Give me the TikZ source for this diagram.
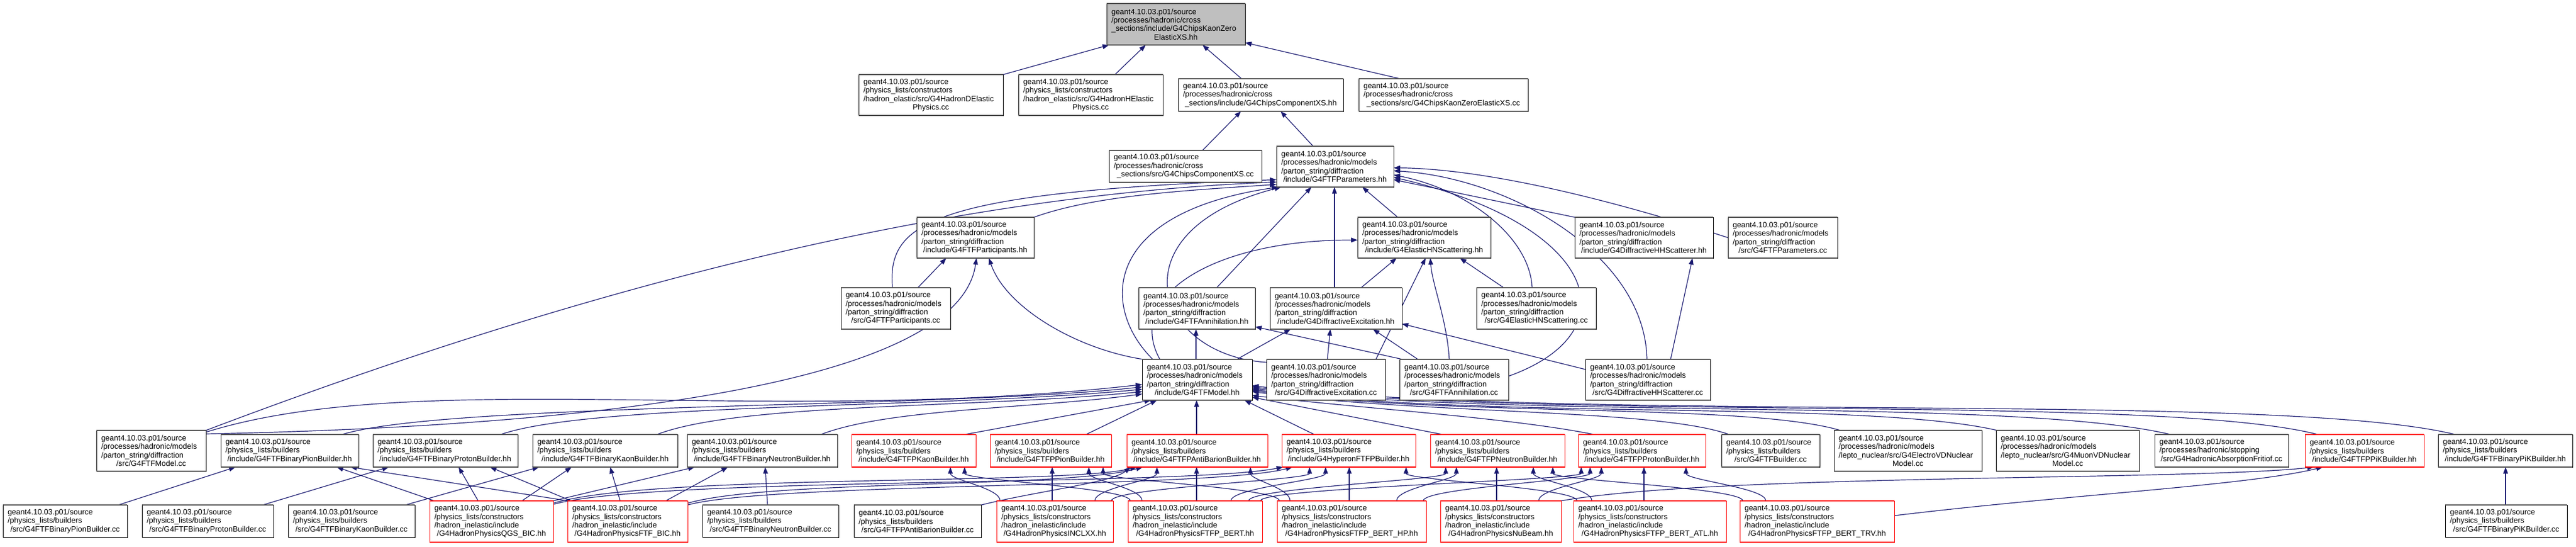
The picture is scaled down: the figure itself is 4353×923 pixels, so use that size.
\documentclass[tikz,border=0pt]{standalone}
\usepackage{fontspec}
\setmainfont{Liberation Sans}
\usetikzlibrary{calc,arrows.meta}
\pgfdeclarelayer{bg}
\pgfsetlayers{bg,main}
\definecolor{edgecol}{HTML}{191970}
\definecolor{redb}{HTML}{FF0000}
\definecolor{topfill}{HTML}{BFBFBF}
\definecolor{hlgray}{HTML}{505050}
\newcommand{\cl}[1]{\makebox[\hsize]{#1}}
\newcommand{\dpre}{geant4.10.03.p01/source\\/processes/hadronic/models\\/parton\_string/diffraction\\}
\newcommand{\bpre}{geant4.10.03.p01/source\\/physics\_lists/builders\\}
\newcommand{\cpre}{geant4.10.03.p01/source\\/physics\_lists/constructors\\/hadron\_inelastic/include\\}
\newcommand{\nd}[7]{%
  \pgfmathsetmacro\ndw{(#4-#2)*0.5}%
  \pgfmathsetmacro\ndh{(#5-#3)*0.5}%
  \pgfmathsetmacro\ndt{(#4-#2)*0.5-8}%
  \node[#6,minimum width=\ndw pt,minimum height=\ndh pt,text width=\ndt pt,anchor=north west] (#1) at (#2,#3) {#7};
  \draw[#6 hl] (#1.north west) -- (#1.north east) (#1.south west) -- (#1.south east);}
\tikzset{
  box/.style={draw=black,line width=0.5pt,fill=white,inner xsep=4pt,inner ysep=1pt,outer sep=0pt,align=left,font=\fontsize{6.5}{7.2}\selectfont},
  redbox/.style={box,draw=redb},
  topbox/.style={box,fill=topfill},
  box hl/.style={draw=hlgray,line width=0.9pt},
  topbox hl/.style={draw=hlgray,line width=0.9pt},
  redbox hl/.style={draw=redb,line width=0.9pt},
  e/.style={draw=edgecol,line width=0.6pt,-{Triangle[length=5.5pt,width=4pt]}}
}
\begin{document}
\begin{tikzpicture}[x=0.5pt,y=-0.5pt]
\useasboundingbox (0,0) rectangle (4353,923);
% ---------- nodes ----------
\nd{T}{1870}{6}{2104}{76}{topbox}{geant4.10.03.p01/source\\/processes/hadronic/cross\\\_sections/include/G4ChipsKaonZero\\\cl{ElasticXS.hh}}
\nd{HD}{1451}{126}{1695}{195}{box}{geant4.10.03.p01/source\\/physics\_lists/constructors\\/hadron\_elastic/src/G4HadronDElastic\\\cl{Physics.cc}}
\nd{HH}{1721}{126}{1965}{195}{box}{geant4.10.03.p01/source\\/physics\_lists/constructors\\/hadron\_elastic/src/G4HadronHElastic\\\cl{Physics.cc}}
\nd{CXh}{1991}{133}{2270}{188}{box}{geant4.10.03.p01/source\\/processes/hadronic/cross\\\cl{\_sections/include/G4ChipsComponentXS.hh}}
\nd{KZc}{2296}{133}{2582}{188}{box}{geant4.10.03.p01/source\\/processes/hadronic/cross\\\cl{\_sections/src/G4ChipsKaonZeroElasticXS.cc}}
\nd{CXc}{1874}{254}{2132}{308}{box}{geant4.10.03.p01/source\\/processes/hadronic/cross\\\cl{\_sections/src/G4ChipsComponentXS.cc}}
\nd{Ph}{2157}{247}{2355}{316}{box}{\dpre\cl{/include/G4FTFParameters.hh}}
\nd{PAh}{1549}{367}{1747}{436}{box}{\dpre\cl{/include/G4FTFParticipants.hh}}
\nd{EHh}{2294}{367}{2519}{436}{box}{\dpre\cl{/include/G4ElasticHNScattering.hh}}
\nd{DHh}{2661}{367}{2895}{436}{box}{\dpre\cl{/include/G4DiffractiveHHScatterer.hh}}
\nd{Pc}{2920}{367}{3105}{436}{box}{\dpre\cl{/src/G4FTFParameters.cc}}
\nd{PAc}{1421}{486}{1606}{556}{box}{\dpre\cl{/src/G4FTFParticipants.cc}}
\nd{AHh}{1924}{486}{2121}{556}{box}{\dpre\cl{/include/G4FTFAnnihilation.hh}}
\nd{DEh}{2146}{486}{2369}{556}{box}{\dpre\cl{/include/G4DiffractiveExcitation.hh}}
\nd{EHc}{2495}{486}{2697}{556}{box}{\dpre\cl{/src/G4ElasticHNScattering.cc}}
\nd{Mh}{1930}{607}{2116}{676}{box}{\dpre\cl{/include/G4FTFModel.hh}}
\nd{DEc}{2140}{607}{2341}{676}{box}{\dpre\cl{/src/G4DiffractiveExcitation.cc}}
\nd{AHc}{2365}{607}{2549}{676}{box}{\dpre\cl{/src/G4FTFAnnihilation.cc}}
\nd{DHc}{2679}{607}{2890}{676}{box}{\dpre\cl{/src/G4DiffractiveHHScatterer.cc}}
% row 7
\nd{Mc}{163}{727}{348}{796}{box}{\dpre\cl{/src/G4FTFModel.cc}}
\nd{BPih}{373}{734}{606}{789}{box}{\bpre\cl{/include/G4FTFBinaryPionBuilder.hh}}
\nd{BPrh}{630}{734}{875}{789}{box}{\bpre\cl{/include/G4FTFBinaryProtonBuilder.hh}}
\nd{BKh}{900}{734}{1145}{789}{box}{\bpre\cl{/include/G4FTFBinaryKaonBuilder.hh}}
\nd{BNh}{1161}{734}{1415}{789}{box}{\bpre\cl{/include/G4FTFBinaryNeutronBuilder.hh}}
\nd{FKh}{1439}{734}{1649}{789}{redbox}{\bpre\cl{/include/G4FTFPKaonBuilder.hh}}
\nd{FPih}{1673}{734}{1878}{789}{redbox}{\bpre\cl{/include/G4FTFPPionBuilder.hh}}
\nd{FAh}{1904}{734}{2142}{789}{redbox}{\bpre\cl{/include/G4FTFPAntiBarionBuilder.hh}}
\nd{HYh}{2166}{734}{2392}{789}{redbox}{\bpre\cl{/include/G4HyperonFTFPBuilder.hh}}
\nd{FNh}{2417}{734}{2644}{789}{redbox}{\bpre\cl{/include/G4FTFPNeutronBuilder.hh}}
\nd{FPrh}{2667}{734}{2882}{789}{redbox}{\bpre\cl{/include/G4FTFPProtonBuilder.hh}}
\nd{Bc}{2909}{734}{3075}{789}{box}{\bpre\cl{/src/G4FTFBuilder.cc}}
\nd{EVc}{3099}{727}{3349}{796}{box}{geant4.10.03.p01/source\\/processes/hadronic/models\\/lepto\_nuclear/src/G4ElectroVDNuclear\\\cl{Model.cc}}
\nd{MVc}{3373}{727}{3615}{796}{box}{geant4.10.03.p01/source\\/processes/hadronic/models\\/lepto\_nuclear/src/G4MuonVDNuclear\\\cl{Model.cc}}
\nd{FRc}{3641}{734}{3867}{789}{box}{geant4.10.03.p01/source\\/processes/hadronic/stopping\\\cl{/src/G4HadronicAbsorptionFritiof.cc}}
\nd{PKh}{3895}{734}{4096}{789}{redbox}{\bpre\cl{/include/G4FTFPPiKBuilder.hh}}
\nd{BPKh}{4120}{734}{4347}{789}{box}{\bpre\cl{/include/G4FTFBinaryPiKBuilder.hh}}
% row 8
\nd{BPic}{5}{853}{215}{908}{box}{\bpre\cl{/src/G4FTFBinaryPionBuilder.cc}}
\nd{BPrc}{240}{853}{462}{908}{box}{\bpre\cl{/src/G4FTFBinaryProtonBuilder.cc}}
\nd{BKc}{487}{853}{701}{908}{box}{\bpre\cl{/src/G4FTFBinaryKaonBuilder.cc}}
\nd{QGS}{726}{846}{935}{916}{redbox}{\cpre\cl{/G4HadronPhysicsQGS\_BIC.hh}}
\nd{FBIC}{959}{846}{1162}{916}{redbox}{\cpre\cl{/G4HadronPhysicsFTF\_BIC.hh}}
\nd{BNc}{1187}{853}{1417}{908}{box}{\bpre\cl{/src/G4FTFBinaryNeutronBuilder.cc}}
\nd{FAc}{1443}{853}{1658}{908}{box}{\bpre\cl{/src/G4FTFPAntiBarionBuilder.cc}}
\nd{INCL}{1684}{846}{1881}{916}{redbox}{\cpre\cl{/G4HadronPhysicsINCLXX.hh}}
\nd{BERT}{1906}{846}{2133}{916}{redbox}{\cpre\cl{/G4HadronPhysicsFTFP\_BERT.hh}}
\nd{BHP}{2158}{846}{2410}{916}{redbox}{\cpre\cl{/G4HadronPhysicsFTFP\_BERT\_HP.hh}}
\nd{NuB}{2434}{846}{2638}{916}{redbox}{\cpre\cl{/G4HadronPhysicsNuBeam.hh}}
\nd{ATL}{2659}{846}{2917}{916}{redbox}{\cpre\cl{/G4HadronPhysicsFTFP\_BERT\_ATL.hh}}
\nd{TRV}{2940}{846}{3201}{916}{redbox}{\cpre\cl{/G4HadronPhysicsFTFP\_BERT\_TRV.hh}}
\nd{BPKc}{4132}{853}{4338}{908}{box}{\bpre\cl{/src/G4FTFBinaryPiKBuilder.cc}}
% ---------- edges ----------
\begin{pgfonlayer}{bg}
\draw[e] (HD.north east) -- ($(T.south west)+(4,0)$);
\draw[e] ($(HH.north west)+(163,0)$) -- ($(T.south west)+(66,0)$);
\draw[e] ($(CXh.north west)+(107,0)$) -- ($(T.south west)+(162,0)$);
\draw[e] ($(KZc.north west)+(70,0)$) -- ($(T.south east)+(0,-4)$);
\draw[e] ($(CXc.north west)+(158,0)$) -- ($(CXh.south west)+(106,0)$);
\draw[e] ($(Ph.north west)+(62,0)$) -- ($(CXh.south west)+(173,0)$);
% into FTFParameters.hh
\draw[e] (PAh.north east) .. controls (1850,330) and (2000,322) .. ($(Ph.west)+(0,30)$);
\draw[e] (Mc.north east) .. controls (1000,480) and (1600,330) .. ($(Ph.west)+(0,26)$);
\draw[e] ($(PAc.north west)+(87,0)$) .. controls (1500,380) and (1560,325) .. ($(Ph.west)+(0,22)$);
\draw[e] ($(Mh.north west)+(18,0)$) .. controls (1860,520) and (1860,360) .. ($(Ph.south west)+(3,0)$);
\draw[e] ($(DEc.north west)+(0,5)$) .. controls (1950,600) and (1880,390) .. ($(Ph.south west)+(8,0)$);
\draw[e] ($(AHh.north west)+(132,0)$) -- ($(Ph.south west)+(59,0)$);
\draw[e] ($(DEh.north west)+(109,0)$) -- ($(Ph.south west)+(98,0)$);
\draw[e] ($(EHh.north west)+(68,0)$) -- ($(Ph.south west)+(145,0)$);
\draw[e] (DHh.north west) -- ($(Ph.east)+(0,22)$);
\draw[e] (Pc.west) .. controls (2700,330) and (2500,285) .. ($(Ph.east)+(0,2)$);
\draw[e] ($(EHc.north west)+(94,0)$) .. controls (2585,400) and (2480,320) .. ($(Ph.east)+(0,14)$);
\draw[e] ($(AHc.east)+(0,-6)$) .. controls (2760,560) and (2700,380) .. ($(Ph.east)+(0,18)$);
\draw[e] ($(DHc.north west)+(104,0)$) .. controls (2780,430) and (2550,300) .. ($(Ph.east)+(0,7)$);
\draw[e] ($(DHc.north west)+(144,0)$) -- ($(DHh.south west)+(199,0)$);
% rows 4-6
\draw[e] ($(PAc.north west)+(130,0)$) -- ($(PAh.south west)+(50,0)$);
\draw[e] ($(Mc.north east)+(0,6)$) .. controls (1000,720) and (1620,650) .. ($(PAh.south west)+(101,0)$);
\draw[e] ($(Mh.north west)+(2,0)$) .. controls (1820,590) and (1700,520) .. ($(PAh.south west)+(122,0)$);
\draw[e] ($(Mh.north west)+(91,0)$) -- ($(AHh.south west)+(97,0)$);
\draw[e] ($(Mh.north west)+(160,0)$) -- ($(DEh.south west)+(35,0)$);
\draw[e] ($(DEc.north west)+(103,0)$) -- ($(DEh.south west)+(102,0)$);
\draw[e] ($(AHc.north west)+(31,0)$) -- ($(DEh.south west)+(174,0)$);
\draw[e] ($(AHc.north west)+(5,0)$) -- ($(AHh.south east)+(0,-4)$);
\draw[e] ($(DHc.north west)+(0,17)$) -- ($(DEh.south east)+(0,-9)$);
\draw[e] ($(DEc.north west)+(185,0)$) -- ($(EHh.south west)+(115,0)$);
\draw[e] ($(Mh.north west)+(30,0)$) .. controls (1900,500) and (2050,405) .. ($(EHh.west)+(0,4)$);
\draw[e] ($(DEh.north west)+(154,0)$) -- ($(EHh.south west)+(66,0)$);
\draw[e] ($(EHc.north west)+(46,0)$) -- ($(EHh.south west)+(173,0)$);
\draw[e] ($(AHc.north west)+(84,0)$) .. controls (2445,540) and (2420,480) .. ($(EHh.south west)+(123,0)$);
% into FTFModel.hh
\draw[e] ($(Mc.north east)+(0,3)$) .. controls (700,620) and (1300,720) .. ($(Mh.west)+(0,8)$);
\draw[e] ($(BPih.north east)+(-28,0)$) .. controls (750,680) and (1600,690) .. ($(Mh.west)+(0,12)$);
\draw[e] ($(BPrh.north east)+(-29,0)$) .. controls (1000,680) and (1600,690) .. ($(Mh.west)+(0,16)$);
\draw[e] ($(BKh.north east)+(-35,0)$) .. controls (1250,680) and (1650,690) .. ($(Mh.west)+(0,20)$);
\draw[e] ($(BNh.north east)+(-28,0)$) .. controls (1500,690) and (1750,690) .. ($(Mh.west)+(0,24)$);
\draw[e] ($(FKh.north east)+(-19,0)$) -- ($(Mh.south west)+(15,0)$);
\draw[e] ($(FPih.north east)+(-43,0)$) -- ($(Mh.south west)+(25,0)$);
\draw[e] ($(FAh.north west)+(118,0)$) -- ($(Mh.south west)+(92,0)$);
\draw[e] ($(HYh.north west)+(55,0)$) -- ($(Mh.south east)+(-13,0)$);
\draw[e] ($(FNh.north west)+(21,0)$) -- ($(Mh.south east)+(0,-5)$);
\draw[e] ($(FPrh.north west)+(27,0)$) .. controls (2550,705) and (2300,690) .. ($(Mh.south east)+(0,-8)$);
\draw[e] ($(Bc.north west)+(13,0)$) .. controls (2800,690) and (2400,700) .. ($(Mh.east)+(0,20)$);
\draw[e] ($(EVc.north west)+(11,0)$) .. controls (2950,680) and (2450,705) .. ($(Mh.east)+(0,18)$);
\draw[e] ($(MVc.north west)+(2,0)$) .. controls (3150,675) and (2500,710) .. ($(Mh.east)+(0,16)$);
\draw[e] ($(FRc.north west)+(27,0)$) .. controls (3400,670) and (2550,710) .. ($(Mh.east)+(0,14)$);
\draw[e] ($(PKh.north west)+(22,0)$) .. controls (3650,665) and (2600,712) .. ($(Mh.east)+(0,12)$);
\draw[e] ($(BPKh.north west)+(29,0)$) .. controls (3850,660) and (2650,715) .. ($(Mh.east)+(0,10)$);
% bottom row
\draw[e] ($(BPic.north west)+(195,0)$) -- ($(BPih.south west)+(25,0)$);
\draw[e] ($(BPrc.north west)+(204,0)$) -- ($(BPrh.south west)+(27,0)$);
\draw[e] ($(BKc.north west)+(198,0)$) -- ($(BKh.south west)+(11,0)$);
\draw[e] ($(BNc.north west)+(110,0)$) -- ($(BNh.south west)+(132,0)$);
\draw[e] ($(QGS.north west)+(8,0)$) -- ($(BPih.south west)+(196,0)$);
\draw[e] ($(QGS.north west)+(82,0)$) -- ($(BPrh.south west)+(145,0)$);
\draw[e] ($(QGS.north west)+(156,0)$) -- ($(BKh.south west)+(66,0)$);
\draw[e] (QGS.north east) -- ($(BNh.south west)+(13,0)$);
\draw[e] ($(FBIC.north west)+(1,0)$) -- ($(BPih.south west)+(219,0)$);
\draw[e] ($(FBIC.north west)+(6,0)$) -- ($(BPrh.south west)+(198,0)$);
\draw[e] ($(FBIC.north west)+(89,0)$) -- ($(BKh.south west)+(131,0)$);
\draw[e] ($(FBIC.north west)+(166,0)$) -- ($(BNh.south west)+(69,0)$);
\draw[e] ($(QGS.north east)+(0,4)$) .. controls (1100,800) and (1800,820) .. ($(FAh.south west)+(17,0)$);
\draw[e] ($(QGS.north east)+(0,6)$) .. controls (1100,805) and (2000,822) .. ($(HYh.south west)+(2,0)$);
\draw[e] ($(FBIC.north east)+(0,4)$) .. controls (1300,810) and (1800,825) .. ($(FAh.south west)+(27,0)$);
\draw[e] ($(FBIC.north east)+(0,7)$) .. controls (1300,815) and (2050,825) .. ($(HYh.south west)+(18,0)$);
\draw[e] (FAc.north east) .. controls (1750,830) and (1880,815) .. ($(FAh.south west)+(6,0)$);
% hadron physics -> FTFP builders
\draw[e] ($(INCL.north west)+(6,0)$) .. controls +(0,-22) and +(0,22) .. ($(FKh.south west)+(167,0)$);
\draw[e] ($(INCL.north west)+(94,0)$) -- ($(FPih.south west)+(105,0)$);
\draw[e] ($(INCL.north west)+(166,0)$) .. controls +(0,-22) and +(0,22) .. ($(FAh.south west)+(51,0)$);
\draw[e] ($(INCL.north west)+(194,0)$) .. controls +(0,-22) and +(0,22) .. ($(HYh.south west)+(47,0)$);
\draw[e] ($(BERT.north west)+(4,0)$) .. controls +(0,-22) and +(0,22) .. ($(FKh.south west)+(191,0)$);
\draw[e] ($(BERT.north west)+(24,0)$) .. controls +(0,-22) and +(0,22) .. ($(FPih.south west)+(167,0)$);
\draw[e] ($(BERT.north west)+(116,0)$) -- ($(FAh.south west)+(118,0)$);
\draw[e] ($(BERT.north west)+(174,0)$) .. controls +(0,-22) and +(0,22) .. ($(HYh.south west)+(74,0)$);
\draw[e] ($(BERT.north west)+(204,0)$) .. controls +(0,-22) and +(0,22) .. ($(FNh.south west)+(26,0)$);
\draw[e] ($(BERT.north west)+(224,0)$) .. controls +(0,-22) and +(0,22) .. ($(FPrh.south west)+(5,0)$);
\draw[e] ($(BHP.north west)+(4,0)$) .. controls +(0,-22) and +(0,22) .. ($(FPih.south west)+(191,0)$);
\draw[e] ($(BHP.north west)+(22,0)$) .. controls +(0,-22) and +(0,22) .. ($(FAh.south west)+(209,0)$);
\draw[e] ($(BHP.north west)+(122,0)$) -- ($(HYh.south west)+(114,0)$);
\draw[e] ($(BHP.north west)+(202,0)$) .. controls +(0,-22) and +(0,22) .. ($(FNh.south west)+(44,0)$);
\draw[e] ($(BHP.north west)+(247,0)$) .. controls +(0,-22) and +(0,22) .. ($(FPrh.south west)+(20,0)$);
\draw[e] ($(NuB.north west)+(95,0)$) -- ($(FNh.south west)+(112,0)$);
\draw[e] ($(NuB.north west)+(166,0)$) .. controls +(0,-22) and +(0,22) .. ($(FPrh.south west)+(39,0)$);
\draw[e] (NuB.north east) .. controls (2900,800) and (3700,812) .. ($(PKh.south west)+(15,0)$);
\draw[e] ($(ATL.north west)+(6,0)$) .. controls +(0,-22) and +(0,22) .. ($(HYh.south west)+(210,0)$);
\draw[e] ($(ATL.north west)+(31,0)$) .. controls +(0,-22) and +(0,22) .. ($(FNh.south west)+(174,0)$);
\draw[e] ($(ATL.north west)+(119,0)$) -- ($(FPrh.south west)+(111,0)$);
\draw[e] ($(TRV.north west)+(5,0)$) .. controls +(0,-22) and +(0,22) .. ($(FNh.south west)+(207,0)$);
\draw[e] ($(TRV.north west)+(44,0)$) .. controls +(0,-22) and +(0,22) .. ($(FPrh.south west)+(182,0)$);
\draw[e] ($(TRV.east)+(0,-10)$) .. controls (3500,835) and (3800,820) .. ($(PKh.south west)+(30,0)$);
\draw[e] ($(BPKc.north west)+(102,0)$) -- ($(BPKh.south west)+(114,0)$);
\end{pgfonlayer}
\end{tikzpicture}
\end{document}
